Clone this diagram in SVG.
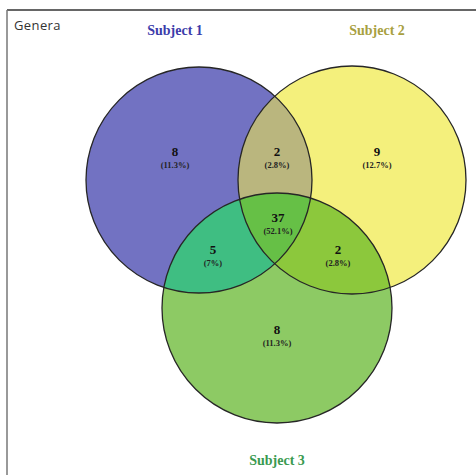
<svg xmlns="http://www.w3.org/2000/svg" width="476" height="475" viewBox="0 0 476 475">
<style>
  .outline { fill: none; stroke: #262626; stroke-width: 1.3; }
  .num { font-family: "Liberation Serif", "Times New Roman", serif; font-weight: bold; font-size: 13px; fill: #111; text-anchor: middle; }
  .pct { font-family: "Liberation Serif", "Times New Roman", serif; font-weight: bold; font-size: 8.5px; fill: #222; text-anchor: middle; }
  .subj { font-family: "Liberation Serif", "Times New Roman", serif; font-weight: bold; font-size: 14px; text-anchor: middle; }
</style>
<defs>
  <clipPath id="clip1"><circle cx="199" cy="180" r="113"/></clipPath>
  <clipPath id="clip2"><circle cx="352" cy="180" r="114"/></clipPath>
</defs>
<rect x="0" y="0" width="476" height="475" fill="#ffffff"/>
<g id="frame">
  <line x1="7" y1="10" x2="476" y2="10" stroke="#333" stroke-width="1.5"/>
  <line x1="7" y1="10" x2="7" y2="475" stroke="#777" stroke-width="1.5"/>
</g>
<text x="14" y="30" font-family="'Open Sans', 'Liberation Sans', sans-serif" font-size="13" fill="#333" letter-spacing="0.4">Genera</text>

<g id="subject1">
  <circle cx="199" cy="180" r="113" fill="#7272c2"/>
  <text class="subj" x="175" y="35" fill="#3c3caa">Subject 1</text>
</g>
<g id="subject2">
  <circle cx="352" cy="180" r="114" fill="#f4f07c"/>
  <text class="subj" x="377" y="35" fill="#a8a040">Subject 2</text>
</g>
<g id="subject3">
  <circle cx="277" cy="308" r="115" fill="#8dca64"/>
  <text class="subj" x="277" y="465" fill="#3a9a50">Subject 3</text>
</g>

<g id="overlaps">
  <circle cx="352" cy="180" r="114" fill="#bab67e" clip-path="url(#clip1)"/>
  <circle cx="277" cy="308" r="115" fill="#3fbe82" clip-path="url(#clip1)"/>
  <circle cx="277" cy="308" r="115" fill="#8cc83c" clip-path="url(#clip2)"/>
  <g clip-path="url(#clip1)">
    <circle cx="277" cy="308" r="115" fill="#66c046" clip-path="url(#clip2)"/>
  </g>
</g>

<g id="outlines">
  <circle class="outline" cx="199" cy="180" r="113"/>
  <circle class="outline" cx="352" cy="180" r="114"/>
  <circle class="outline" cx="277" cy="308" r="115"/>
</g>

<g id="labels">
  <text class="num" x="175" y="156">8</text>
  <text class="pct" x="175" y="167.5">(11.3%)</text>
  <text class="num" x="277" y="156">2</text>
  <text class="pct" x="277" y="167.5">(2.8%)</text>
  <text class="num" x="377" y="156">9</text>
  <text class="pct" x="377" y="167.5">(12.7%)</text>
  <text class="num" x="278" y="222">37</text>
  <text class="pct" x="278" y="233.5">(52.1%)</text>
  <text class="num" x="213" y="254">5</text>
  <text class="pct" x="213" y="265.5">(7%)</text>
  <text class="num" x="338" y="254">2</text>
  <text class="pct" x="338" y="265.5">(2.8%)</text>
  <text class="num" x="277" y="334">8</text>
  <text class="pct" x="277" y="345.5">(11.3%)</text>
</g>
</svg>
